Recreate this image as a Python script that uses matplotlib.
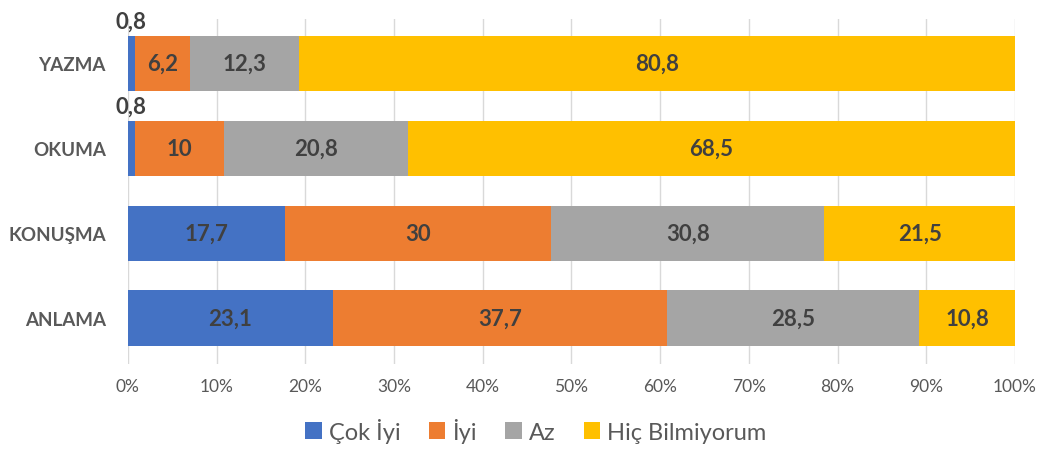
import numpy as np
import matplotlib
matplotlib.use("Agg")
import matplotlib.pyplot as plt

plt.rcParams['font.family'] = ['Lato', 'DejaVu Sans']

categories = ["ANLAMA", "KONUŞMA", "OKUMA", "YAZMA"]
series_names = ["Çok İyi", "İyi", "Az", "Hiç Bilmiyorum"]
cok_iyi = [23.1, 17.7, 0.8, 0.8]
iyi = [37.7, 30, 10, 6.2]
az = [28.5, 30.8, 20.8, 12.3]
hic = [10.8, 21.5, 68.5, 80.8]
colors = ["#4472C4", "#ED7D31", "#A5A5A5", "#FFC000"]

data = np.array([cok_iyi, iyi, az, hic], dtype=float)
totals = data.sum(axis=0)
shares = data / totals

fig = plt.figure(figsize=(10.4, 4.52), dpi=100)
ax = fig.add_axes([0.123, 0.1925, 0.853, 0.7633])

y = np.arange(len(categories))
left = np.zeros(len(categories))
for i, name in enumerate(series_names):
    ax.barh(y, shares[i], left=left, height=0.65, color=colors[i], label=name, zorder=2)
    for j in range(len(categories)):
        val = data[i, j]
        txt = f"{val:g}".replace(".", ",")
        cx = left[j] + shares[i, j] / 2
        if shares[i, j] < 0.02:
            ax.text(cx, y[j] + 0.37, txt, ha="center", va="bottom", fontsize=16,
                    fontweight="bold", color="#404040")
        else:
            ax.text(cx, y[j], txt, ha="center", va="center", fontsize=16,
                    fontweight="bold", color="#404040")
    left += shares[i]

ax.set_xlim(0, 1)
ax.set_ylim(-0.54, 3.52)
ax.set_xticks(np.linspace(0, 1, 11))
ax.set_xticklabels([f"{int(t)}%" for t in np.linspace(0, 100, 11)])
ax.set_yticks(y)
ax.set_yticklabels(categories, fontweight="bold")
ax.tick_params(axis="x", length=0, pad=10, labelsize=12.5, labelcolor="#595959")
ax.tick_params(axis="y", length=0, pad=16, labelsize=13.5, labelcolor="#595959")
ax.grid(axis="x", color="#D9D9D9", linewidth=1, zorder=0)
for s in ax.spines.values():
    s.set_visible(False)

ax.legend(loc="upper center", bbox_to_anchor=(0.46, -0.095), ncol=4, frameon=False,
          fontsize=17, handlelength=0.7, handleheight=0.7, handletextpad=0.3,
          columnspacing=1.2, labelcolor="#595959")

fig.savefig("out.png", dpi=100)
